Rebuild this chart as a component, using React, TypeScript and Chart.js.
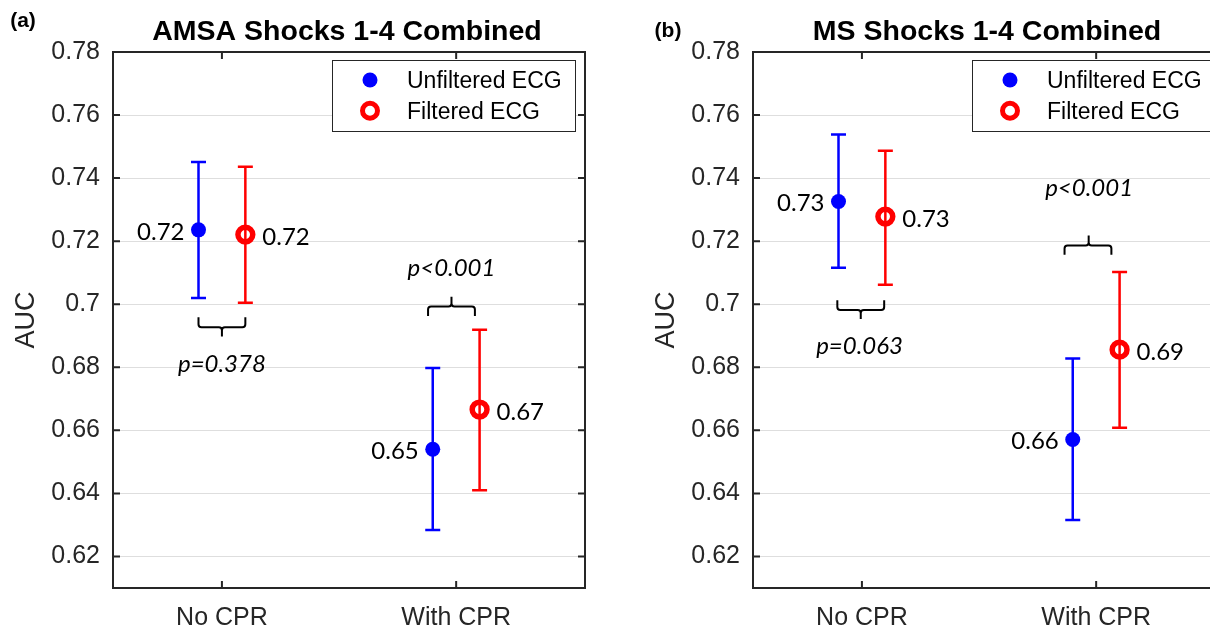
import React, { useEffect, useRef } from "react";
import { Chart, registerables } from "chart.js";

Chart.register(...registerables);

// ---------- data ----------
const categories = ["No CPR", "With CPR"];
const categoryX = [1, 2];
const seriesNames = ["Unfiltered ECG", "Filtered ECG"];
const seriesOffset = [-0.1, 0.1];

const yTicks = [0.62, 0.64, 0.66, 0.68, 0.7, 0.72, 0.74, 0.76, 0.78];
const yTickLabels = ["0.62", "0.64", "0.66", "0.68", "0.7", "0.72", "0.74", "0.76", "0.78"];

// Panel (a) AMSA
const amsaUnfiltered = [0.7236, 0.654];
const amsaUnfilteredLow = [0.702, 0.6284];
const amsaUnfilteredHigh = [0.7451, 0.6798];
const amsaFiltered = [0.7221, 0.6666];
const amsaFilteredLow = [0.7005, 0.641];
const amsaFilteredHigh = [0.7436, 0.6919];
const amsaUnfilteredLabels = ["0.72", "0.65"];
const amsaFilteredLabels = ["0.72", "0.67"];
const amsaPValues = ["p=0.378", "p<0.001"];

// Panel (b) MS
const msUnfiltered = [0.7326, 0.6571];
const msUnfilteredLow = [0.7116, 0.6316];
const msUnfilteredHigh = [0.7538, 0.6828];
const msFiltered = [0.7278, 0.6856];
const msFilteredLow = [0.7062, 0.6608];
const msFilteredHigh = [0.7487, 0.7102];
const msUnfilteredLabels = ["0.73", "0.66"];
const msFilteredLabels = ["0.73", "0.69"];
const msPValues = ["p=0.063", "p<0.001"];

// bracket annotation geometry (data units): x1, x2, tipX, endY, barY, tipY, textX, textY
const amsaBrackets = [
  [0.9, 1.1, 1.0, 0.6959, 0.6927, 0.6898, 1.0, 0.681],
  [1.88, 2.08, 1.98, 0.6963, 0.6993, 0.7024, 1.98, 0.7116],
];
const msBrackets = [
  [0.895, 1.095, 0.995, 0.7013, 0.6982, 0.6953, 0.99, 0.6866],
  [1.865, 2.065, 1.968, 0.7157, 0.7186, 0.7218, 1.97, 0.7369],
];

const AXIS_FONT = "'Liberation Sans', Arial, Helvetica, sans-serif";
const NOTE_FONT = "Lato, 'Open Sans', sans-serif";
const AXIS_COLOR = "#262626";

type PanelCfg = {
  letter: string;
  letterX: number;
  letterY: number;
  title: string;
  unf: number[]; unfLo: number[]; unfHi: number[];
  fil: number[]; filLo: number[]; filHi: number[];
  unfLabels: string[]; filLabels: string[];
  pValues: string[];
  brackets: number[][];
  left: number;
};

const panels: PanelCfg[] = [
  {
    letter: "(a)", letterX: 23, letterY: 21, title: "AMSA Shocks 1-4 Combined",
    unf: amsaUnfiltered, unfLo: amsaUnfilteredLow, unfHi: amsaUnfilteredHigh,
    fil: amsaFiltered, filLo: amsaFilteredLow, filHi: amsaFilteredHigh,
    unfLabels: amsaUnfilteredLabels, filLabels: amsaFilteredLabels,
    pValues: amsaPValues, brackets: amsaBrackets, left: 0,
  },
  {
    letter: "(b)", letterX: 28, letterY: 31, title: "MS Shocks 1-4 Combined",
    unf: msUnfiltered, unfLo: msUnfilteredLow, unfHi: msUnfilteredHigh,
    fil: msFiltered, filLo: msFilteredLow, filHi: msFilteredHigh,
    unfLabels: msUnfilteredLabels, filLabels: msFilteredLabels,
    pValues: msPValues, brackets: msBrackets, left: 640,
  },
];

function makePlugin(cfg: PanelCfg) {
  return {
    id: "decor",
    beforeDatasetsDraw(chart: any) {
      const { ctx } = chart;
      const xs = chart.scales.x;
      const ys = chart.scales.y;
      chart.data.datasets.forEach((ds: any) => {
        ctx.save();
        ctx.strokeStyle = ds.errColor;
        ctx.lineWidth = 2.5;
        ds.data.forEach((p: any, j: number) => {
          const x = xs.getPixelForValue(p.x);
          const yl = ys.getPixelForValue(ds.errLow[j]);
          const yh = ys.getPixelForValue(ds.errHigh[j]);
          ctx.beginPath();
          ctx.moveTo(x, yl);
          ctx.lineTo(x, yh);
          ctx.moveTo(x - 7.5, yl);
          ctx.lineTo(x + 7.5, yl);
          ctx.moveTo(x - 7.5, yh);
          ctx.lineTo(x + 7.5, yh);
          ctx.stroke();
        });
        ctx.restore();
      });
    },
    afterDraw(chart: any) {
      const { ctx, chartArea: ca } = chart;
      const xs = chart.scales.x;
      const ys = chart.scales.y;
      ctx.save();
      // box
      ctx.strokeStyle = AXIS_COLOR;
      ctx.lineWidth = 2;
      ctx.strokeRect(ca.left, ca.top, ca.right - ca.left, ca.bottom - ca.top);
      // ticks
      ctx.beginPath();
      yTicks.forEach((v) => {
        const y = ys.getPixelForValue(v);
        ctx.moveTo(ca.left, y);
        ctx.lineTo(ca.left + 7, y);
        ctx.moveTo(ca.right, y);
        ctx.lineTo(ca.right - 7, y);
      });
      categoryX.forEach((v) => {
        const x = xs.getPixelForValue(v);
        ctx.moveTo(x, ca.bottom);
        ctx.lineTo(x, ca.bottom - 7);
        ctx.moveTo(x, ca.top);
        ctx.lineTo(x, ca.top + 7);
      });
      ctx.stroke();

      // y title
      ctx.save();
      ctx.translate(34, (ca.top + ca.bottom) / 2);
      ctx.rotate(-Math.PI / 2);
      ctx.fillStyle = AXIS_COLOR;
      ctx.font = `27px ${AXIS_FONT}`;
      ctx.textAlign = "center";
      ctx.textBaseline = "alphabetic";
      ctx.fillText("AUC", 0, 0);
      ctx.restore();

      // titles
      ctx.fillStyle = "#000";
      ctx.font = `bold 28.5px ${AXIS_FONT}`;
      ctx.textAlign = "center";
      ctx.textBaseline = "middle";
      ctx.fillText(cfg.title, (ca.left + ca.right) / 2 - 2, 32);
      ctx.font = `bold 21px ${AXIS_FONT}`;
      ctx.fillText(cfg.letter, cfg.letterX, cfg.letterY);

      // value labels
      ctx.font = `24px ${NOTE_FONT}`;
      ctx.textBaseline = "alphabetic";
      ctx.fillStyle = "#000";
      categoryX.forEach((cx, i) => {
        const xb = xs.getPixelForValue(cx + seriesOffset[0]);
        const yb = ys.getPixelForValue(cfg.unf[i]);
        ctx.textAlign = "right";
        ctx.fillText(cfg.unfLabels[i], xb - 14, yb + 10);
        const xr = xs.getPixelForValue(cx + seriesOffset[1]);
        const yr = ys.getPixelForValue(cfg.fil[i]);
        ctx.textAlign = "left";
        ctx.fillText(cfg.filLabels[i], xr + 17, yr + 10);
      });

      // brackets + p-values
      ctx.strokeStyle = "#000";
      ctx.lineWidth = 2;
      cfg.brackets.forEach((b, i) => {
        const [x1v, x2v, tv, ev, bv, tipv, txv, tyv] = b;
        const x1 = xs.getPixelForValue(x1v);
        const x2 = xs.getPixelForValue(x2v);
        const xt = xs.getPixelForValue(tv);
        const ye = ys.getPixelForValue(ev);
        const yb = ys.getPixelForValue(bv);
        const ytp = ys.getPixelForValue(tipv);
        const s = Math.sign(ytp - yb);
        const r = 3;
        ctx.beginPath();
        ctx.moveTo(x1, ye);
        ctx.lineTo(x1, yb - r * s);
        ctx.quadraticCurveTo(x1, yb, x1 + r, yb);
        ctx.lineTo(xt - r, yb);
        ctx.quadraticCurveTo(xt, yb, xt, yb + r * s);
        ctx.lineTo(xt, ytp);
        ctx.moveTo(x2, ye);
        ctx.lineTo(x2, yb - r * s);
        ctx.quadraticCurveTo(x2, yb, x2 - r, yb);
        ctx.lineTo(xt + r, yb);
        ctx.quadraticCurveTo(xt, yb, xt, yb + r * s);
        ctx.stroke();

        ctx.font = `italic 24px ${NOTE_FONT}`;
        ctx.textAlign = "center";
        ctx.fillText(cfg.pValues[i], xs.getPixelForValue(txv), ys.getPixelForValue(tyv) + 8);
      });

      // legend
      const lx1 = ca.left + 219;
      const lx2 = ca.right - 10;
      const ly1 = ca.top + 8;
      const ly2 = ca.top + 79;
      ctx.fillStyle = "#fff";
      ctx.fillRect(lx1, ly1, lx2 - lx1, ly2 - ly1);
      ctx.strokeStyle = AXIS_COLOR;
      ctx.lineWidth = 1;
      ctx.strokeRect(lx1 + 0.5, ly1 + 0.5, lx2 - lx1, ly2 - ly1);
      const mx = lx1 + 38;
      const rowY = [ly1 + 20, ly1 + 50.7];
      ctx.fillStyle = "#0000ff";
      ctx.beginPath();
      ctx.arc(mx, rowY[0], 7.5, 0, Math.PI * 2);
      ctx.fill();
      ctx.strokeStyle = "#ff0000";
      ctx.lineWidth = 5;
      ctx.beginPath();
      ctx.arc(mx, rowY[1], 7.5, 0, Math.PI * 2);
      ctx.stroke();
      ctx.fillStyle = "#000";
      ctx.font = `23px ${AXIS_FONT}`;
      ctx.textAlign = "left";
      ctx.textBaseline = "alphabetic";
      seriesNames.forEach((n, i) => ctx.fillText(n, lx1 + 75, rowY[i] + 8.3));
      ctx.restore();
    },
  };
}

function Panel({ cfg }: { cfg: PanelCfg }) {
  const ref = useRef<HTMLCanvasElement>(null);
  useEffect(() => {
    if (!ref.current) return;
    const chart = new Chart(ref.current, {
      type: "scatter",
      data: {
        datasets: [
          {
            label: seriesNames[0],
            data: categoryX.map((cx, i) => ({ x: cx + seriesOffset[0], y: cfg.unf[i] })),
            errLow: cfg.unfLo,
            errHigh: cfg.unfHi,
            errColor: "#0000ff",
            pointRadius: 7.5,
            pointBackgroundColor: "#0000ff",
            pointBorderWidth: 0,
            pointBorderColor: "#0000ff",
          } as any,
          {
            label: seriesNames[1],
            data: categoryX.map((cx, i) => ({ x: cx + seriesOffset[1], y: cfg.fil[i] })),
            errLow: cfg.filLo,
            errHigh: cfg.filHi,
            errColor: "#ff0000",
            pointRadius: 7.4,
            pointBackgroundColor: "rgba(0,0,0,0)",
            pointBorderWidth: 5.5,
            pointBorderColor: "#ff0000",
          } as any,
        ],
      },
      options: {
        animation: false,
        responsive: false,
        devicePixelRatio: 1,
        layout: { padding: { left: 0, right: 55, top: 52, bottom: 0 } },
        plugins: { legend: { display: false }, tooltip: { enabled: false }, title: { display: false } },
        scales: {
          x: {
            type: "linear",
            min: 0.535,
            max: 2.55,
            grid: { display: false },
            border: { display: false },
            afterBuildTicks: (s: any) => {
              s.ticks = categoryX.map((v) => ({ value: v }));
            },
            afterFit: (s: any) => {
              s.height = 42;
            },
            ticks: {
              autoSkip: false,
              maxRotation: 0,
              padding: 7,
              color: AXIS_COLOR,
              font: { family: AXIS_FONT, size: 25 },
              callback: (_v: any, i: number) => categories[i],
            },
          },
          y: {
            type: "linear",
            min: 0.61,
            max: 0.78,
            grid: { color: "#dedede", lineWidth: 1, drawTicks: false },
            border: { display: false },
            afterBuildTicks: (s: any) => {
              s.ticks = yTicks.map((v) => ({ value: v }));
            },
            afterFit: (s: any) => {
              s.width = 113;
            },
            ticks: {
              autoSkip: false,
              padding: 13,
              color: AXIS_COLOR,
              font: { family: AXIS_FONT, size: 25 },
              callback: (_v: any, i: number) => yTickLabels[i],
            },
          },
        },
      } as any,
      plugins: [makePlugin(cfg)],
    });
    return () => chart.destroy();
  }, [cfg]);
  return (
    <canvas
      ref={ref}
      width={640}
      height={630}
      style={{ position: "absolute", left: cfg.left, top: 0, width: 640, height: 630 }}
    />
  );
}

export default function App() {
  return (
    <div
      style={{
        position: "fixed",
        left: 0,
        top: 0,
        width: 1210,
        height: 630,
        overflow: "hidden",
        background: "#fff",
      }}
    >
      {panels.map((p) => (
        <Panel key={p.letter} cfg={p} />
      ))}
    </div>
  );
}
